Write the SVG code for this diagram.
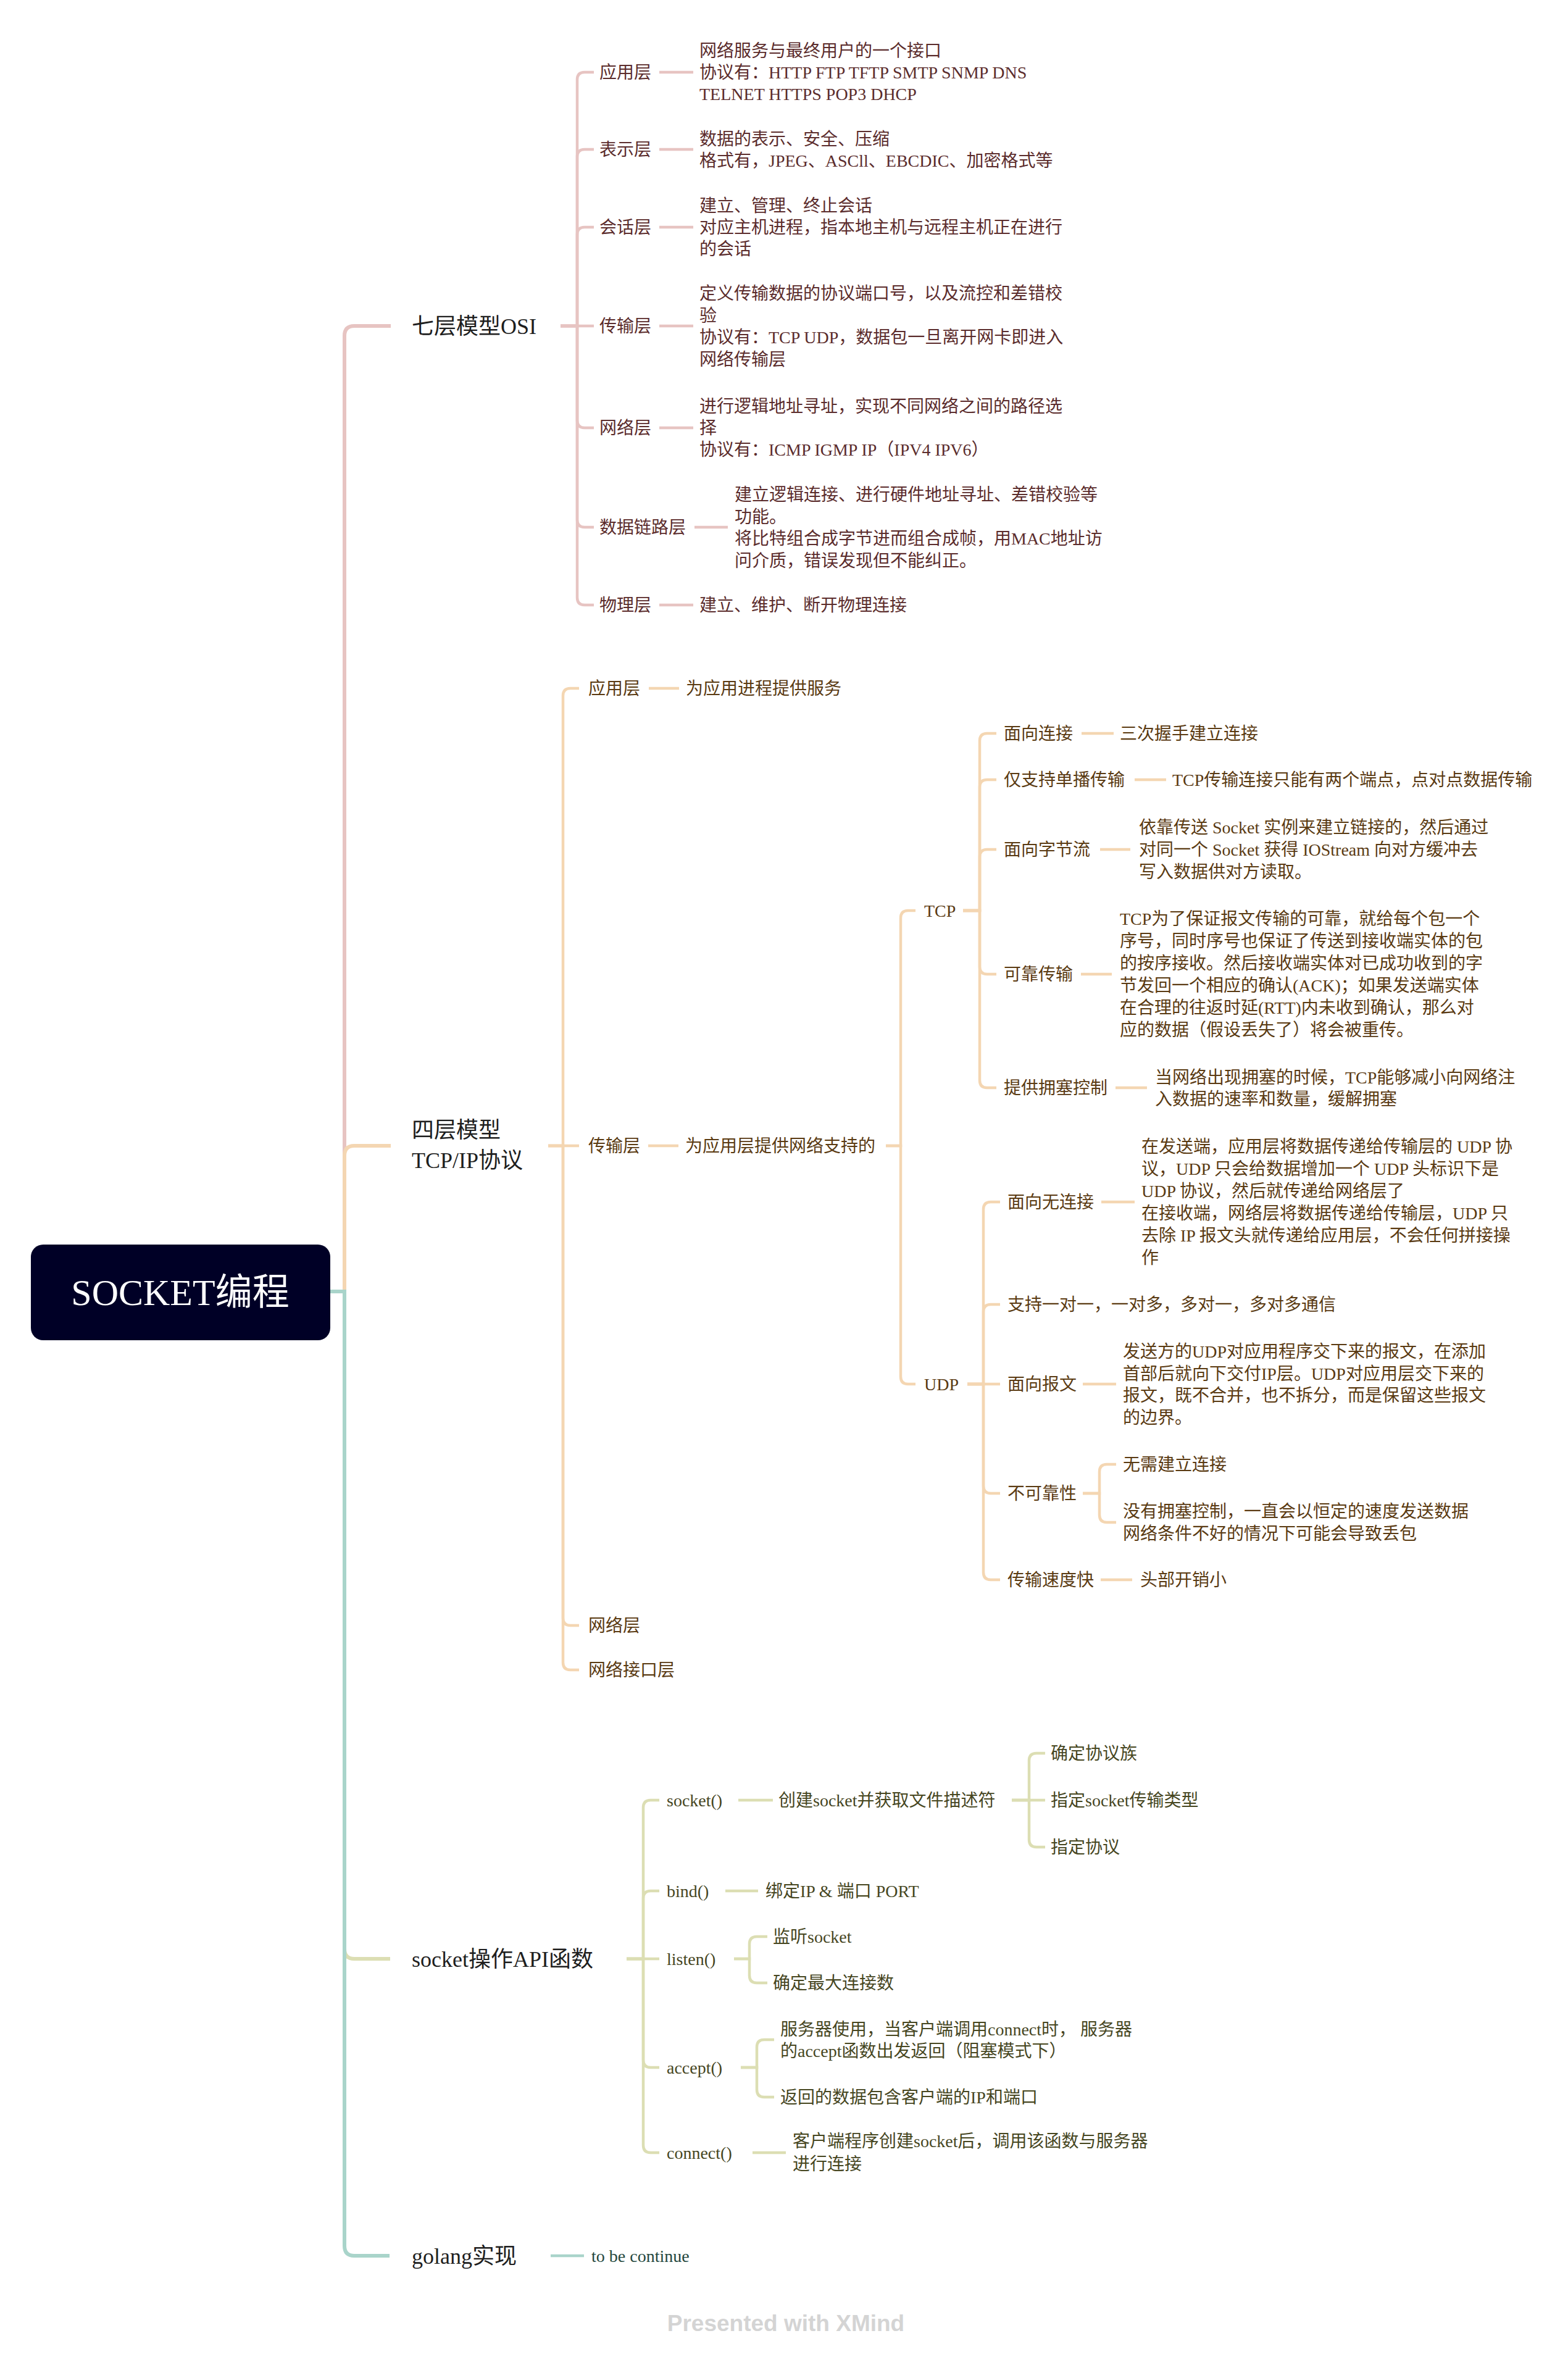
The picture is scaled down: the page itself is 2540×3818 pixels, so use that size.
<svg xmlns="http://www.w3.org/2000/svg" width="2540" height="3818" viewBox="0 0 2540 3818">
<style>
.t{font-family:"Liberation Serif","Noto Sans CJK SC",serif;font-size:28px}
.m{font-family:"Liberation Serif","Noto Sans CJK SC",serif;font-size:36px;fill:#1e1e1e}
.osi{fill:#5b2c2c}.tcp{fill:#5a3a12}.api{fill:#46461f}.go{fill:#24473d}
.c{fill:none;stroke-width:4.5}
.mc{fill:none;stroke-width:6}
.lp{stroke:#e7c4c2}.lt{stroke:#f4d6b2}.la{stroke:#dcdeb3}.lg{stroke:#a9d4ca}
</style>
<rect width="2540" height="3818" fill="#ffffff"/>
<g id="connectors">
<path class="mc lp" d="M535,2092 H558 V544 Q558,528 574,528 H633"/>
<path class="mc lt" d="M535,2092 H558 V1872 Q558,1856 574,1856 H633"/>
<path class="mc la" d="M535,2092 H558 V3157 Q558,3173 574,3173 H632"/>
<path class="mc lg" d="M535,2092 H558 V3638 Q558,3654 574,3654 H631"/>
<!-- OSI -->
<path class="c lp" d="M908,528 H935 V129 Q935,117 947,117 H962"/>
<path class="c lp" d="M908,528 H935 V254 Q935,242 947,242 H962"/>
<path class="c lp" d="M908,528 H935 V380 Q935,368 947,368 H962"/>
<path class="c lp" d="M908,528 H962"/>
<path class="c lp" d="M908,528 H935 V681 Q935,693 947,693 H962"/>
<path class="c lp" d="M908,528 H935 V842 Q935,854 947,854 H962"/>
<path class="c lp" d="M908,528 H935 V968 Q935,980 947,980 H962"/>
<path class="c lp" d="M1068,117 H1123"/>
<path class="c lp" d="M1068,242 H1123"/>
<path class="c lp" d="M1068,368 H1123"/>
<path class="c lp" d="M1068,528 H1123"/>
<path class="c lp" d="M1068,693 H1123"/>
<path class="c lp" d="M1125,854 H1179"/>
<path class="c lp" d="M1068,980 H1123"/>
<!-- TCP/IP -->
<path class="c lt" d="M888,1856 H912 V1127 Q912,1115 924,1115 H938"/>
<path class="c lt" d="M888,1856 H938"/>
<path class="c lt" d="M888,1856 H912 V2621 Q912,2633 924,2633 H938"/>
<path class="c lt" d="M888,1856 H912 V2693 Q912,2705 924,2705 H938"/>
<path class="c lt" d="M1051,1115 H1100"/>
<path class="c lt" d="M1050,1856 H1099"/>
<path class="c lt" d="M1435,1856 H1459 V1487 Q1459,1475 1471,1475 H1483"/>
<path class="c lt" d="M1435,1856 H1459 V2230 Q1459,2242 1471,2242 H1483"/>
<path class="c lt" d="M1560,1475 H1587 V1200 Q1587,1188 1599,1188 H1614"/>
<path class="c lt" d="M1560,1475 H1587 V1275 Q1587,1263 1599,1263 H1614"/>
<path class="c lt" d="M1560,1475 H1587 V1388 Q1587,1376 1599,1376 H1614"/>
<path class="c lt" d="M1560,1475 H1587 V1566 Q1587,1578 1599,1578 H1614"/>
<path class="c lt" d="M1560,1475 H1587 V1750 Q1587,1762 1599,1762 H1614"/>
<path class="c lt" d="M1752,1188 H1804"/>
<path class="c lt" d="M1838,1263 H1889"/>
<path class="c lt" d="M1782,1376 H1831"/>
<path class="c lt" d="M1751,1578 H1801"/>
<path class="c lt" d="M1807,1762 H1858"/>
<path class="c lt" d="M1567,2242 H1593 V1959 Q1593,1947 1605,1947 H1620"/>
<path class="c lt" d="M1567,2242 H1593 V2125 Q1593,2113 1605,2113 H1620"/>
<path class="c lt" d="M1567,2242 H1620"/>
<path class="c lt" d="M1567,2242 H1593 V2407 Q1593,2419 1605,2419 H1620"/>
<path class="c lt" d="M1567,2242 H1593 V2547 Q1593,2559 1605,2559 H1620"/>
<path class="c lt" d="M1784,1947 H1838"/>
<path class="c lt" d="M1754,2242 H1808"/>
<path class="c lt" d="M1754,2419 H1781 V2384 Q1781,2372 1793,2372 H1808"/>
<path class="c lt" d="M1754,2419 H1781 V2454 Q1781,2466 1793,2466 H1808"/>
<path class="c lt" d="M1783,2559 H1834"/>
<!-- socket API -->
<path class="c la" d="M1015,3173 H1042 V2928 Q1042,2916 1054,2916 H1068"/>
<path class="c la" d="M1015,3173 H1042 V3075 Q1042,3063 1054,3063 H1068"/>
<path class="c la" d="M1015,3173 H1068"/>
<path class="c la" d="M1015,3173 H1042 V3337 Q1042,3349 1054,3349 H1068"/>
<path class="c la" d="M1015,3173 H1042 V3475 Q1042,3487 1054,3487 H1068"/>
<path class="c la" d="M1196,2916 H1252"/>
<path class="c la" d="M1639,2916 H1667 V2852 Q1667,2840 1679,2840 H1693"/>
<path class="c la" d="M1639,2916 H1693"/>
<path class="c la" d="M1639,2916 H1667 V2980 Q1667,2992 1679,2992 H1693"/>
<path class="c la" d="M1175,3063 H1228"/>
<path class="c la" d="M1189,3173 H1214 V3149 Q1214,3137 1226,3137 H1243"/>
<path class="c la" d="M1189,3173 H1214 V3200 Q1214,3212 1226,3212 H1243"/>
<path class="c la" d="M1200,3349 H1226 V3316 Q1226,3304 1238,3304 H1254"/>
<path class="c la" d="M1200,3349 H1226 V3385 Q1226,3397 1238,3397 H1254"/>
<path class="c la" d="M1219,3487 H1273"/>
<!-- golang -->
<path class="c lg" d="M892,3654 H946"/>
</g>
<g id="root">
<rect x="50" y="2016" width="485" height="155" rx="20" fill="#000026"/>
<text x="292" y="2114" text-anchor="middle" font-family="Liberation Serif, Noto Sans CJK SC, serif" font-size="60" fill="#ffffff">SOCKET编程</text>
</g>
<g id="osi">
<text class="m" x="667" y="541">七层模型OSI</text>
</g>
<g id="osi-app"><text class="t osi" x="971" y="127">应用层</text></g>
<g id="osi-app-d"><text class="t osi"><tspan x="1133" y="92">网络服务与最终用户的一个接口</tspan><tspan x="1133" y="127">协议有：HTTP FTP TFTP SMTP SNMP DNS</tspan><tspan x="1133" y="162">TELNET HTTPS POP3 DHCP</tspan></text></g>
<g id="osi-pres"><text class="t osi" x="971" y="252">表示层</text></g>
<g id="osi-pres-d"><text class="t osi"><tspan x="1133" y="235">数据的表示、安全、压缩</tspan><tspan x="1133" y="270">格式有，JPEG、ASCll、EBCDIC、加密格式等</tspan></text></g>
<g id="osi-sess"><text class="t osi" x="971" y="378">会话层</text></g>
<g id="osi-sess-d"><text class="t osi"><tspan x="1133" y="343">建立、管理、终止会话</tspan><tspan x="1133" y="378">对应主机进程，指本地主机与远程主机正在进行</tspan><tspan x="1133" y="413">的会话</tspan></text></g>
<g id="osi-trans"><text class="t osi" x="971" y="538">传输层</text></g>
<g id="osi-trans-d"><text class="t osi"><tspan x="1133" y="485">定义传输数据的协议端口号，以及流控和差错校</tspan><tspan x="1133" y="520.5">验</tspan><tspan x="1133" y="556">协议有：TCP UDP，数据包一旦离开网卡即进入</tspan><tspan x="1133" y="591.5">网络传输层</tspan></text></g>
<g id="osi-net"><text class="t osi" x="971" y="703">网络层</text></g>
<g id="osi-net-d"><text class="t osi"><tspan x="1133" y="668">进行逻辑地址寻址，实现不同网络之间的路径选</tspan><tspan x="1133" y="703">择</tspan><tspan x="1133" y="738">协议有：ICMP IGMP IP（IPV4 IPV6）</tspan></text></g>
<g id="osi-link"><text class="t osi" x="971" y="864">数据链路层</text></g>
<g id="osi-link-d"><text class="t osi"><tspan x="1190" y="811">建立逻辑连接、进行硬件地址寻址、差错校验等</tspan><tspan x="1190" y="846.5">功能。</tspan><tspan x="1190" y="882">将比特组合成字节进而组合成帧，用MAC地址访</tspan><tspan x="1190" y="917.5">问介质，错误发现但不能纠正。</tspan></text></g>
<g id="osi-phys"><text class="t osi" x="971" y="990">物理层</text></g>
<g id="osi-phys-d"><text class="t osi" x="1133" y="990">建立、维护、断开物理连接</text></g>

<g id="tcpip"><text class="m"><tspan x="667" y="1843">四层模型</tspan><tspan x="667" y="1892">TCP/IP协议</tspan></text></g>
<g id="tcpip-app"><text class="t tcp" x="953" y="1125">应用层</text></g>
<g id="tcpip-app-d"><text class="t tcp" x="1111" y="1125">为应用进程提供服务</text></g>
<g id="tcpip-trans"><text class="t tcp" x="953" y="1866">传输层</text></g>
<g id="tcpip-trans-d"><text class="t tcp" x="1110" y="1866">为应用层提供网络支持的</text></g>
<g id="tcpip-net"><text class="t tcp" x="953" y="2643">网络层</text></g>
<g id="tcpip-if"><text class="t tcp" x="953" y="2715">网络接口层</text></g>
<g id="tcp"><text class="t tcp" x="1497" y="1485">TCP</text></g>
<g id="tcp-conn"><text class="t tcp" x="1626" y="1198">面向连接</text></g>
<g id="tcp-conn-d"><text class="t tcp" x="1814" y="1198">三次握手建立连接</text></g>
<g id="tcp-uni"><text class="t tcp" x="1626" y="1273">仅支持单播传输</text></g>
<g id="tcp-uni-d"><text class="t tcp" x="1899" y="1273">TCP传输连接只能有两个端点，点对点数据传输</text></g>
<g id="tcp-stream"><text class="t tcp" x="1626" y="1386">面向字节流</text></g>
<g id="tcp-stream-d"><text class="t tcp"><tspan x="1845" y="1350">依靠传送 Socket 实例来建立链接的，然后通过</tspan><tspan x="1845" y="1386">对同一个 Socket 获得 IOStream 向对方缓冲去</tspan><tspan x="1845" y="1422">写入数据供对方读取。</tspan></text></g>
<g id="tcp-rel"><text class="t tcp" x="1626" y="1588">可靠传输</text></g>
<g id="tcp-rel-d"><text class="t tcp"><tspan x="1814" y="1498">TCP为了保证报文传输的可靠，就给每个包一个</tspan><tspan x="1814" y="1534">序号，同时序号也保证了传送到接收端实体的包</tspan><tspan x="1814" y="1570">的按序接收。然后接收端实体对已成功收到的字</tspan><tspan x="1814" y="1606">节发回一个相应的确认(ACK)；如果发送端实体</tspan><tspan x="1814" y="1642">在合理的往返时延(RTT)内未收到确认，那么对</tspan><tspan x="1814" y="1678">应的数据（假设丢失了）将会被重传。</tspan></text></g>
<g id="tcp-cong"><text class="t tcp" x="1626" y="1772">提供拥塞控制</text></g>
<g id="tcp-cong-d"><text class="t tcp"><tspan x="1871" y="1755">当网络出现拥塞的时候，TCP能够减小向网络注</tspan><tspan x="1871" y="1790">入数据的速率和数量，缓解拥塞</tspan></text></g>
<g id="udp"><text class="t tcp" x="1497" y="2252">UDP</text></g>
<g id="udp-noconn"><text class="t tcp" x="1632" y="1957">面向无连接</text></g>
<g id="udp-noconn-d"><text class="t tcp"><tspan x="1849" y="1867">在发送端，应用层将数据传递给传输层的 UDP 协</tspan><tspan x="1849" y="1903">议，UDP 只会给数据增加一个 UDP 头标识下是</tspan><tspan x="1849" y="1939">UDP 协议，然后就传递给网络层了</tspan><tspan x="1849" y="1975">在接收端，网络层将数据传递给传输层，UDP 只</tspan><tspan x="1849" y="2011">去除 IP 报文头就传递给应用层，不会任何拼接操</tspan><tspan x="1849" y="2047">作</tspan></text></g>
<g id="udp-multi"><text class="t tcp" x="1632" y="2123">支持一对一，一对多，多对一，多对多通信</text></g>
<g id="udp-msg"><text class="t tcp" x="1632" y="2252">面向报文</text></g>
<g id="udp-msg-d"><text class="t tcp"><tspan x="1819" y="2199">发送方的UDP对应用程序交下来的报文，在添加</tspan><tspan x="1819" y="2235">首部后就向下交付IP层。UDP对应用层交下来的</tspan><tspan x="1819" y="2270">报文，既不合并，也不拆分，而是保留这些报文</tspan><tspan x="1819" y="2306">的边界。</tspan></text></g>
<g id="udp-unrel"><text class="t tcp" x="1632" y="2429">不可靠性</text></g>
<g id="udp-unrel-1"><text class="t tcp" x="1819" y="2382">无需建立连接</text></g>
<g id="udp-unrel-2"><text class="t tcp"><tspan x="1819" y="2458">没有拥塞控制，一直会以恒定的速度发送数据</tspan><tspan x="1819" y="2494">网络条件不好的情况下可能会导致丢包</tspan></text></g>
<g id="udp-fast"><text class="t tcp" x="1632" y="2569">传输速度快</text></g>
<g id="udp-fast-d"><text class="t tcp" x="1847" y="2569">头部开销小</text></g>

<g id="api"><text class="m" x="667" y="3186">socket操作API函数</text></g>
<g id="api-socket"><text class="t api" x="1080" y="2926">socket()</text></g>
<g id="api-socket-d"><text class="t api" x="1261" y="2926">创建socket并获取文件描述符</text></g>
<g id="api-socket-1"><text class="t api" x="1702" y="2850">确定协议族</text></g>
<g id="api-socket-2"><text class="t api" x="1702" y="2926">指定socket传输类型</text></g>
<g id="api-socket-3"><text class="t api" x="1702" y="3002">指定协议</text></g>
<g id="api-bind"><text class="t api" x="1080" y="3073">bind()</text></g>
<g id="api-bind-d"><text class="t api" x="1240" y="3073">绑定IP &amp; 端口 PORT</text></g>
<g id="api-listen"><text class="t api" x="1080" y="3183">listen()</text></g>
<g id="api-listen-1"><text class="t api" x="1252" y="3147">监听socket</text></g>
<g id="api-listen-2"><text class="t api" x="1252" y="3222">确定最大连接数</text></g>
<g id="api-accept"><text class="t api" x="1080" y="3359">accept()</text></g>
<g id="api-accept-1"><text class="t api"><tspan x="1264" y="3297">服务器使用，当客户端调用connect时， 服务器</tspan><tspan x="1264" y="3332">的accept函数出发返回（阻塞模式下）</tspan></text></g>
<g id="api-accept-2"><text class="t api" x="1264" y="3407">返回的数据包含客户端的IP和端口</text></g>
<g id="api-connect"><text class="t api" x="1080" y="3497">connect()</text></g>
<g id="api-connect-d"><text class="t api"><tspan x="1284" y="3478">客户端程序创建socket后，调用该函数与服务器</tspan><tspan x="1284" y="3515">进行连接</tspan></text></g>

<g id="golang"><text class="m" x="667" y="3667">golang实现</text></g>
<g id="golang-d"><text class="t go" x="958" y="3664">to be continue</text></g>

<text x="1273" y="3776" text-anchor="middle" font-family="Liberation Sans, sans-serif" font-weight="bold" font-size="37" fill="#d4d4d4">Presented with XMind</text>
</svg>
